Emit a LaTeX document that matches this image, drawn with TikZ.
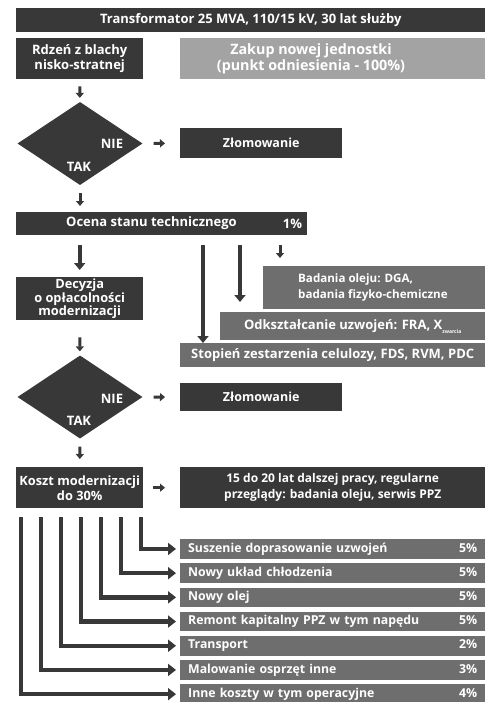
\documentclass[tikz,border=0pt]{standalone}
\usepackage{fontspec}
\setmainfont{Open Sans}
\usetikzlibrary{shapes.geometric,arrows.meta}
\definecolor{boxdark}{HTML}{383838}
\definecolor{boxlight}{HTML}{A3A3A3}
\definecolor{boxmid}{HTML}{6E6E6E}
\tikzset{
  fs/.style 2 args={font=\bfseries\fontsize{#1}{#2}\selectfont},
  darkbox/.style={fill=boxdark,text=white,fs={13}{15},inner sep=0pt,anchor=north west,align=center},
  lightbox/.style={darkbox,fill=boxlight},
  midbox/.style={darkbox,fill=boxmid},
  boxtext/.style={text=white,fs={13}{15},inner sep=0pt,align=center},
  decision/.style={diamond,fill=boxdark,inner sep=0pt,minimum width=125,minimum height=83},
  costbar/.style={midbox,fs={12.3}{14},inner xsep=8pt,minimum height=19.5,text width=289,align=left},
  smallarrow/.style={draw=boxdark,line width=3pt,-{Triangle[length=5pt,width=8pt]}},
  longarrow/.style={draw=boxdark,line width=4pt,-{Triangle[length=7pt,width=11pt]}},
  elbowarrow/.style={draw=boxdark,line width=4.5pt,-{Triangle[length=8pt,width=12pt]}}
}
\begin{document}
\begin{tikzpicture}[x=1pt,y=-1pt]
\fill[white] (0,0) rectangle (485,702);
\useasboundingbox (0,0) rectangle (485,702);
% top of the chart
\node[darkbox,minimum width=469,minimum height=24] (title) at (16,8) {Transformator 25 MVA, 110/15 kV, 30 lat służby};
\node[darkbox,minimum width=127,minimum height=41] (rdzen) at (16,38) {Rdzeń z blachy\\nisko-stratnej};
\node[lightbox,minimum width=305,minimum height=41] (zakup) at (180,38) {};
\node[boxtext,fs={14.3}{16}] (zakuptxt) at (311,58.5) {Zakup nowej jednostki\\(punkt odniesienia - 100\%)};
\node[decision] (d1) at (80,143.5) {};
\node[boxtext] (d1nie) at (112,144) {NIE};
\node[boxtext] (d1tak) at (79,167) {TAK};
\node[darkbox,fs={12.5}{15},minimum width=162,minimum height=30] (zlom1) at (180,128) {Złomowanie};
% assessment
\node[darkbox,minimum width=291,minimum height=23] (ocena) at (16,212) {};
\node[boxtext] (ocenatxt) at (151.5,223.5) {Ocena stanu technicznego};
\node[boxtext] (ocenapct) at (292.5,223.5) {1\%};
\node[darkbox,fs={12.8}{13.5},minimum width=127,minimum height=43] (decyzja) at (16,277) {Decyzja\\o opłacolności\\modernizacji};
\node[midbox,minimum width=222,minimum height=43] (badania) at (263,266) {};
\node[boxtext,fs={11.6}{16},anchor=west,align=left] (badaniatxt) at (298,287.5) {Badania oleju: DGA,\\badania fizyko-chemiczne};
\node[midbox,minimum width=265,minimum height=28] (odksz) at (220,312) {Odkształcanie uzwojeń: FRA, X\raisebox{-0.6ex}{\fontsize{5}{5}\selectfont zwarcia}};
\node[midbox,minimum width=305,minimum height=24] (stopien) at (180,343) {Stopień zestarzenia celulozy, FDS, RVM, PDC};
\node[decision] (d2) at (80,397) {};
\node[boxtext] (d2nie) at (112,399) {NIE};
\node[boxtext] (d2tak) at (79,421) {TAK};
\node[darkbox,fs={12.5}{15},minimum width=162,minimum height=28] (zlom2) at (180,383) {Złomowanie};
\node[darkbox,fs={12.8}{15},minimum width=127,minimum height=41] (koszt) at (16,467) {Koszt modernizacji\\do 30\%};
\node[darkbox,fs={12}{16},minimum width=305,minimum height=41] (praca) at (180,467) {15 do 20 lat dalszej pracy, regularne\\przeglądy: badania oleju, serwis PPZ};
% arrows down the left column
\draw[smallarrow,shorten <=7pt,shorten >=4pt] (rdzen) -- (d1);
\draw[smallarrow,shorten <=8pt,shorten >=6pt] (d1.south) -- (d1.south |- ocena.north);
\draw[longarrow,shorten <=10pt,shorten >=7pt] (ocena.south -| decyzja.north) -- (decyzja);
\draw[smallarrow,shorten <=17pt,shorten >=4pt] (decyzja) -- (d2);
\draw[smallarrow,shorten <=8pt,shorten >=8pt] (d2) -- (koszt);
\draw[smallarrow,shorten <=11pt,shorten >=15pt] (d1) -- (zlom1);
\draw[smallarrow,shorten <=11pt,shorten >=15pt] (d2) -- (zlom2);
\draw[smallarrow,shorten <=10pt,shorten >=15pt] (koszt) -- (praca);
% tests
\coordinate (tap1) at ([xshift=23]stopien.north west);
\coordinate (tap2) at ([xshift=20]odksz.north west);
\coordinate (tap3) at ([xshift=17]badania.north west);
\draw[longarrow,shorten <=10pt] (tap1 |- ocena.south) -- (tap1);
\draw[longarrow,shorten <=10pt,shorten >=10pt] (tap2 |- ocena.south) -- (tap2);
\draw[smallarrow,shorten <=10pt,shorten >=8pt] (tap3 |- ocena.south) -- (tap3);
% cost items
\foreach \name/\pct [count=\i] in {Suszenie doprasowanie uzwojeń/5,Nowy układ chłodzenia/5,Nowy olej/5,
  Remont kapitalny PPZ w tym napędu/5,Transport/2,Malowanie osprzęt inne/3,Inne koszty w tym operacyjne/4}{
  \node[costbar] (bar\i) at (180,{539+(\i-1)*24.2}) {\name\hfill\pct\%};
  \draw[elbowarrow,shorten >=4pt] (koszt.south west) ++({125-(\i-1)*20},9) |- (bar\i.west);
}
\end{tikzpicture}
\end{document}
